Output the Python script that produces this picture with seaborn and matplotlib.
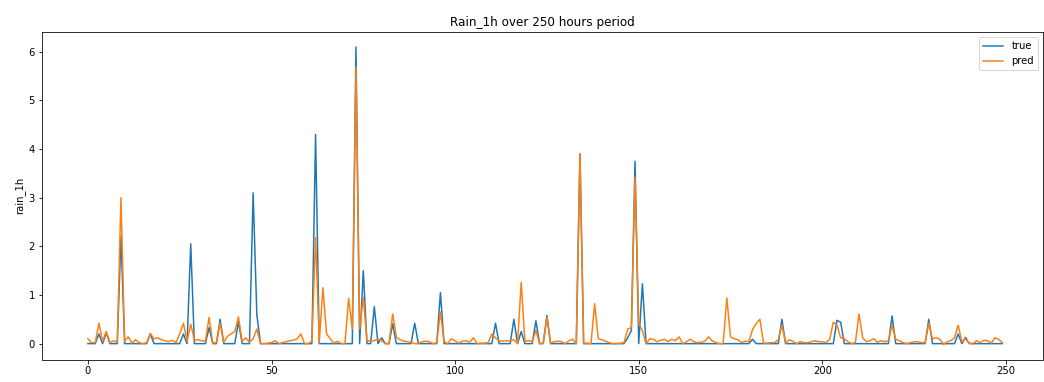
import matplotlib
matplotlib.use("Agg")
import matplotlib.pyplot as plt
import seaborn as sns
import numpy as np
import pandas as pd

hours = list(range(250))

# observed hourly rainfall (mm); hours not listed had no rain
true_hours = [3, 5, 9, 17, 26, 28, 33, 36, 41, 45, 46, 62, 73, 75, 78, 80, 83, 89,
              96, 111, 116, 118, 122, 125, 134, 147, 148, 149, 151, 181, 189, 204,
              205, 219, 229, 237, 239]
true_amounts = [0.2, 0.22, 2.2, 0.2, 0.2, 2.05, 0.33, 0.5, 0.45, 3.1, 0.6, 4.3, 6.1,
                1.5, 0.76, 0.12, 0.41, 0.42, 1.05, 0.42, 0.5, 0.25, 0.47, 0.58, 3.9,
                0.12, 0.27, 3.75, 1.23, 0.09, 0.5, 0.48, 0.44, 0.57, 0.5, 0.2, 0.13]

# model predictions for every hour
pred = [
    0.1, 0.02, 0.02, 0.42, 0.05, 0.25, 0.02, 0.06, 0.03, 3.0,
    0.05, 0.14, 0.01, 0.08, 0.02, 0.0, 0.02, 0.21, 0.1, 0.12,
    0.08, 0.06, 0.04, 0.07, 0.02, 0.2, 0.42, 0.05, 0.4, 0.08,
    0.08, 0.06, 0.05, 0.54, 0.01, 0.02, 0.42, 0.03, 0.15, 0.2,
    0.25, 0.55, 0.05, 0.12, 0.03, 0.1, 0.3, 0.0, 0.0, 0.01,
    0.02, 0.06, 0.0, 0.02, 0.04, 0.06, 0.07, 0.1, 0.2, 0.0,
    0.0, 0.05, 2.18, 0.02, 1.15, 0.2, 0.1, 0.01, 0.05, 0.0,
    0.0, 0.93, 0.3, 5.68, 0.3, 0.95, 0.06, 0.05, 0.06, 0.1,
    0.06, 0.0, 0.0, 0.61, 0.13, 0.08, 0.05, 0.04, 0.03, 0.0,
    0.0, 0.04, 0.05, 0.04, 0.0, 0.02, 0.65, 0.04, 0.0, 0.1,
    0.06, 0.01, 0.05, 0.06, 0.03, 0.12, 0.0, 0.01, 0.01, 0.02,
    0.2, 0.12, 0.06, 0.05, 0.06, 0.05, 0.08, 0.0, 1.26, 0.05,
    0.06, 0.05, 0.27, 0.0, 0.01, 0.54, 0.01, 0.04, 0.05, 0.04,
    0.0, 0.06, 0.09, 0.0, 3.9, 0.01, 0.01, 0.0, 0.82, 0.1,
    0.08, 0.05, 0.02, 0.0, 0.0, 0.01, 0.02, 0.3, 0.33, 3.42,
    0.41, 0.27, 0.0, 0.1, 0.09, 0.04, 0.07, 0.09, 0.04, 0.09,
    0.06, 0.14, 0.0, 0.04, 0.09, 0.04, 0.02, 0.03, 0.05, 0.14,
    0.06, 0.02, 0.0, 0.0, 0.94, 0.14, 0.1, 0.08, 0.02, 0.05,
    0.04, 0.29, 0.41, 0.5, 0.01, 0.01, 0.02, 0.02, 0.08, 0.38,
    0.01, 0.08, 0.05, 0.0, 0.04, 0.02, 0.02, 0.04, 0.06, 0.04,
    0.04, 0.02, 0.09, 0.44, 0.38, 0.12, 0.1, 0.04, 0.0, 0.02,
    0.61, 0.12, 0.04, 0.06, 0.1, 0.03, 0.06, 0.04, 0.06, 0.38,
    0.09, 0.06, 0.02, 0.0, 0.02, 0.04, 0.04, 0.02, 0.02, 0.42,
    0.1, 0.12, 0.09, -0.02, 0.04, 0.06, 0.12, 0.38, 0.04, 0.1,
    0.01, 0.0, 0.06, 0.02, 0.07, 0.06, 0.01, 0.12, 0.09, 0.02,
]

true = np.zeros(len(hours))
true[true_hours] = true_amounts

df = pd.DataFrame({"hour": hours, "true": true, "pred": pred})

W, H = 1044, 382
fig = plt.figure(figsize=(W / 72, H / 72), dpi=72)
left, right, top, bottom = 42, 1043, 32, 359.5
ax = fig.add_axes([left / W, 1 - bottom / H, (right - left) / W, (bottom - top) / H])

sns.lineplot(data=df, x="hour", y="true", ax=ax, color="#1f77b4", linewidth=1.5, label="true")
sns.lineplot(data=df, x="hour", y="pred", ax=ax, color="#ff7f0e", linewidth=1.5, label="pred")

ax.set_xlim(-12.5, 260.1)
ax.set_title("Rain_1h over 250 hours period")
ax.set_ylabel("rain_1h")
ax.set_xlabel("")
ax.legend(loc="upper right")

fig.savefig("out.png", dpi=72)
